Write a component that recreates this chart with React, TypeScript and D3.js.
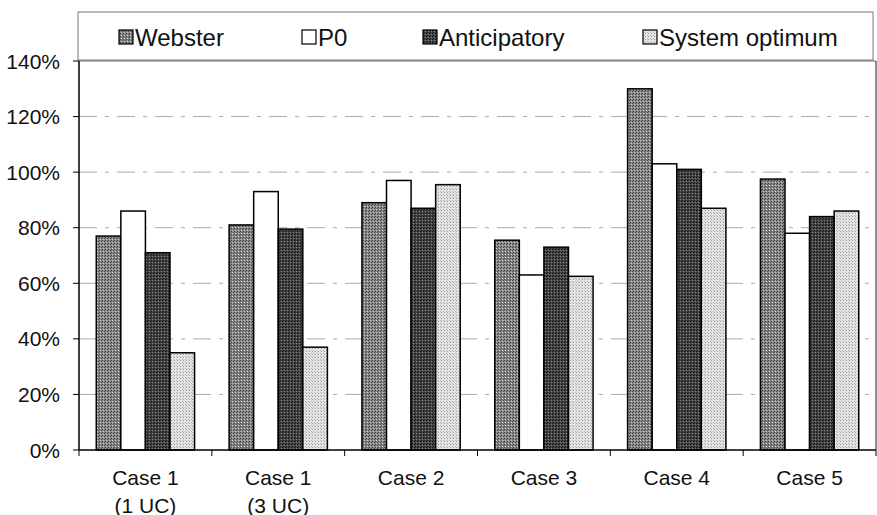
import React from 'react';
import * as d3 from 'd3';

// chart values (fractions of 1)
const categories = ['Case 1|(1 UC)', 'Case 1|(3 UC)', 'Case 2', 'Case 3', 'Case 4', 'Case 5'];
const seriesNames = ['Webster', 'P0', 'Anticipatory', 'System optimum'];
const webster = [0.77, 0.81, 0.89, 0.755, 1.3, 0.975];
const p0 = [0.86, 0.93, 0.97, 0.63, 1.03, 0.78];
const anticipatory = [0.71, 0.795, 0.87, 0.73, 1.01, 0.84];
const systemOptimum = [0.35, 0.37, 0.955, 0.625, 0.87, 0.86];
const yTicks = [0, 0.2, 0.4, 0.6, 0.8, 1.0, 1.2, 1.4];

const seriesValues = [webster, p0, anticipatory, systemOptimum];
const fills = ['url(#patWeb)', '#ffffff', 'url(#patAnt)', 'url(#patSys)'];
const legendX = [119, 302, 423, 643];

const W = 877;
const H = 515;
const plot = { left: 79, right: 876, top: 61, bottom: 450 };
const font = 'Liberation Sans, Arial, sans-serif';

function App() {
  const x0 = d3.scaleBand<string>().domain(categories).range([plot.left, plot.right]).padding(0);
  const bw = x0.bandwidth();
  const x1 = d3
    .scaleBand<string>()
    .domain(seriesNames)
    .range([bw * 0.13, bw * 0.87])
    .padding(0);
  const y = d3.scaleLinear().domain([0, 1.4]).range([plot.bottom, plot.top]);
  const fmt = d3.format('.0%');

  return (
    <svg width={W} height={H} style={{ position: 'absolute', left: 0, top: 0, background: '#fff' }}>
      <defs>
        {/* halftone-ish fills like the scanned original */}
        <pattern id="patWeb" width="3" height="3" patternUnits="userSpaceOnUse">
          <rect width="3" height="3" fill="#8a8a8a" />
          <rect x="0" y="0" width="1" height="1" fill="#3a3a3a" />
          <rect x="2" y="1" width="1" height="1" fill="#4a4a4a" />
          <rect x="1" y="2" width="1" height="1" fill="#c8c8c8" />
        </pattern>
        <pattern id="patAnt" width="3" height="3" patternUnits="userSpaceOnUse">
          <rect width="3" height="3" fill="#444" />
          <rect x="0" y="0" width="1" height="1" fill="#111" />
          <rect x="2" y="1" width="1" height="1" fill="#888" />
          <rect x="1" y="2" width="1" height="1" fill="#222" />
        </pattern>
        <pattern id="patSys" width="3" height="3" patternUnits="userSpaceOnUse">
          <rect width="3" height="3" fill="#e4e4e4" />
          <rect x="0" y="0" width="1" height="1" fill="#9a9a9a" />
          <rect x="2" y="2" width="1" height="1" fill="#b5b5b5" />
        </pattern>
      </defs>

      {/* legend box */}
      <rect x={78} y={12} width={795} height={48} fill="#fff" stroke="#777" strokeWidth={1} />
      {seriesNames.map((s, i) => (
        <g key={s}>
          <rect x={legendX[i]} y={30} width={14} height={14} fill={fills[i]} stroke="#000" strokeWidth={1.2} />
          <text
            x={legendX[i] + 16}
            y={37}
            dominantBaseline="central"
            fontFamily={font}
            fontSize={24}
            fill="#111"
          >
            {s}
          </text>
        </g>
      ))}

      {/* gridlines */}
      {yTicks.slice(1, -1).map((t) => (
        <line
          key={t}
          x1={plot.left}
          x2={plot.right}
          y1={y(t)}
          y2={y(t)}
          stroke="#aaa"
          strokeWidth={1}
          strokeDasharray="18 8 4 8"
        />
      ))}
      {/* plot frame top/right */}
      <line x1={plot.left} x2={plot.right} y1={plot.top} y2={plot.top} stroke="#666" strokeWidth={1} />
      <line x1={plot.right} x2={plot.right} y1={plot.top} y2={plot.bottom} stroke="#444" strokeWidth={1.2} />

      {/* bars */}
      {seriesValues.map((vals, si) =>
        vals.map((v, ci) => (
          <rect
            key={`${si}-${ci}`}
            x={(x0(categories[ci]) ?? 0) + (x1(seriesNames[si]) ?? 0)}
            y={y(v)}
            width={x1.bandwidth()}
            height={y(0) - y(v)}
            fill={fills[si]}
            stroke="#000"
            strokeWidth={1.5}
          />
        ))
      )}

      {/* y axis */}
      <line x1={plot.left} x2={plot.left} y1={plot.top} y2={plot.bottom} stroke="#000" strokeWidth={1.5} />
      {yTicks.map((t) => (
        <g key={t}>
          <line x1={plot.left - 6} x2={plot.left} y1={y(t)} y2={y(t)} stroke="#000" strokeWidth={1} />
          <text
            x={plot.left - 19}
            y={y(t)}
            textAnchor="end"
            dominantBaseline="central"
            fontFamily={font}
            fontSize={21}
            fill="#111"
          >
            {fmt(t)}
          </text>
        </g>
      ))}

      {/* x axis */}
      <line x1={plot.left} x2={plot.right} y1={plot.bottom} y2={plot.bottom} stroke="#000" strokeWidth={1.5} />
      {categories.map((c) => (
        <line
          key={`t-${c}`}
          x1={x0(c) ?? 0}
          x2={x0(c) ?? 0}
          y1={plot.bottom}
          y2={plot.bottom + 6}
          stroke="#000"
          strokeWidth={1}
        />
      ))}
      <line x1={plot.right} x2={plot.right} y1={plot.bottom} y2={plot.bottom + 6} stroke="#000" strokeWidth={1} />
      {categories.map((c) => {
        const cx = (x0(c) ?? 0) + bw / 2;
        return (
          <text key={`l-${c}`} textAnchor="middle" fontFamily={font} fontSize={21} fill="#111">
            {c.split('|').map((line, li) => (
              <tspan key={li} x={cx} y={477 + li * 28} dominantBaseline="central">
                {line}
              </tspan>
            ))}
          </text>
        );
      })}
    </svg>
  );
}

export default App;
